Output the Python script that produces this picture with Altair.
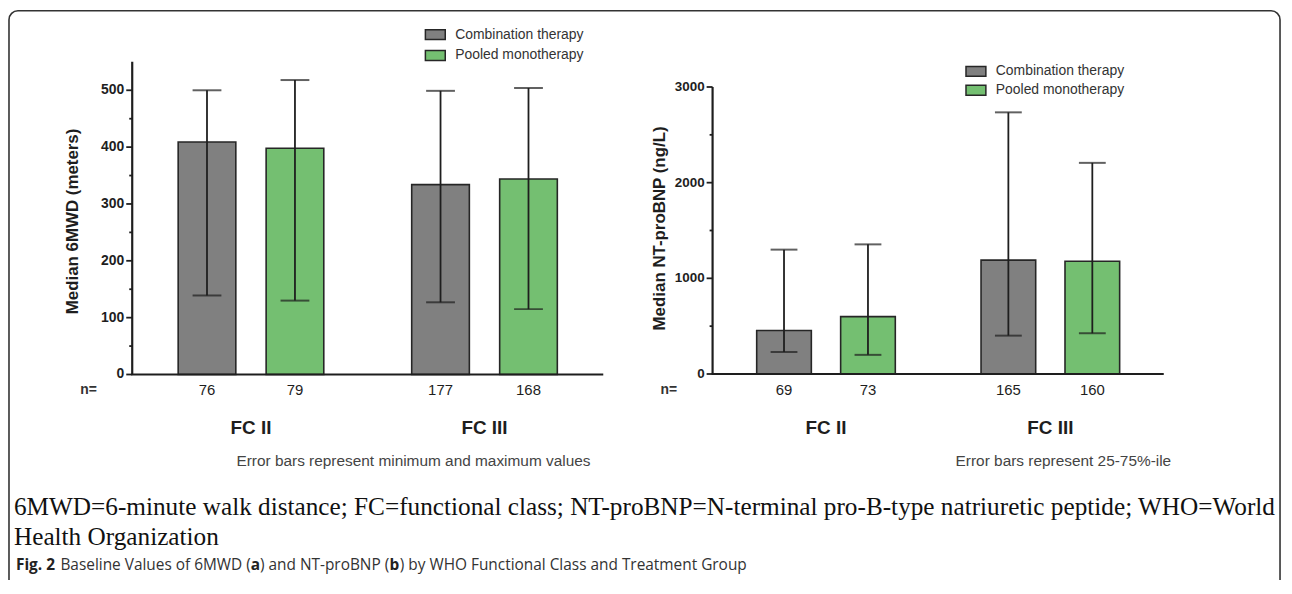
import altair as alt
import pandas as pd

# ---------------- data ----------------
groups = ["FC II", "FC II", "FC III", "FC III"]
treatments = ["Combination therapy", "Pooled monotherapy", "Combination therapy", "Pooled monotherapy"]
treatment_order = ["Combination therapy", "Pooled monotherapy"]
group_order = ["FC II", "FC III"]

mwd_median = [409, 398, 334, 344]
mwd_min = [139, 130, 127, 115]
mwd_max = [500, 518, 499, 504]
mwd_n = ["76", "79", "177", "168"]

bnp_median = [455, 600, 1190, 1178]
bnp_q1 = [230, 200, 401, 426]
bnp_q3 = [1300, 1355, 2735, 2207]
bnp_n = ["69", "73", "165", "160"]

mwd_ticks = [0, 100, 200, 300, 400, 500]
mwd_minor = [50, 150, 250, 350, 450]
bnp_ticks = [0, 1000, 2000, 3000]
bnp_minor = [500, 1500, 2500]

mwd_title = "Median 6MWD (meters)"
bnp_title = "Median NT-proBNP (ng/L)"
mwd_note = "Error bars represent minimum and maximum values"
bnp_note = "Error bars represent 25-75%-ile"
caption_line1 = "6MWD=6-minute walk distance; FC=functional class; NT-proBNP=N-terminal pro-B-type natriuretic peptide; WHO=World"
caption_line2 = "Health Organization"
fig_segments = [("Fig. 2", True), ("Baseline Values of 6MWD (", False), ("a", True),
                (") and NT-proBNP (", False), ("b", True),
                (") by WHO Functional Class and Treatment Group", False)]

GRAY = "#808080"
GREEN = "#74bf71"
INK = "#1e1e1e"
SANS = "Liberation Sans"
SERIF = "Liberation Serif"
CAPSANS = "Open Sans"

RECT_PATH = "M-1,-0.5H1V0.5H-1Z"


def panel(median, lo, hi, ns, ticks, minor, domain, yrange, ax_x, ax_end,
          pad_in, pad_out, off_in, off_out, cap, title, title_x, title_y,
          tick_size, leg_x, leg_y, leg_pad):
    df = pd.DataFrame({"group": groups, "treatment": treatments,
                       "median": median, "lo": lo, "hi": hi, "n": ns})
    ysc = alt.Scale(domain=domain, range=yrange, nice=False, zero=False)
    xsc = alt.Scale(domain=group_order, range=[ax_x, ax_end],
                    paddingInner=pad_in, paddingOuter=pad_out)
    osc = alt.Scale(domain=treatment_order, paddingInner=off_in, paddingOuter=off_out)
    X = alt.X("group:N", scale=xsc, axis=None)
    XO = alt.XOffset("treatment:N", scale=osc)
    base = alt.Chart(df)

    bars = base.mark_bar(stroke="#262626", strokeWidth=1.6).encode(
        x=X, xOffset=XO,
        y=alt.Y("median:Q", scale=ysc, axis=None),
        color=alt.Color("treatment:N",
                        scale=alt.Scale(domain=treatment_order, range=[GRAY, GREEN]),
                        legend=alt.Legend(orient="none", legendX=leg_x, legendY=leg_y,
                                          title=None, symbolType=RECT_PATH, symbolSize=400,
                                          symbolStrokeColor="#262626", symbolStrokeWidth=1.5,
                                          symbolOpacity=1, labelFont=SANS, labelFontSize=14,
                                          labelColor="#333333", labelOffset=9,
                                          rowPadding=leg_pad, padding=0)),
    )
    err = base.mark_rule(color=INK, strokeWidth=1.8).encode(
        x=X, xOffset=XO,
        y=alt.Y("lo:Q", scale=ysc, axis=None), y2="hi:Q")
    cap_hi = base.mark_tick(color=INK, size=cap, thickness=2).encode(
        x=X, xOffset=XO, y=alt.Y("hi:Q", scale=ysc, axis=None))
    cap_lo = base.mark_tick(color=INK, size=cap, thickness=2).encode(
        x=X, xOffset=XO, y=alt.Y("lo:Q", scale=ysc, axis=None))
    nlab = base.mark_text(font=SANS, fontSize=15, color=INK, baseline="middle").encode(
        x=X, xOffset=XO, y=alt.value(382.5), text="n:N")

    ax = pd.DataFrame({"y0": [domain[0]], "y1": [domain[1]]})
    yline = alt.Chart(ax).mark_rule(color=INK, strokeWidth=2.2).encode(
        x=alt.value(ax_x), y=alt.Y("y0:Q", scale=ysc, axis=None), y2="y1:Q")
    xline = alt.Chart(ax).mark_rule(color=INK, strokeWidth=2.2).encode(
        x=alt.value(ax_x - 1), x2=alt.value(ax_end), y=alt.Y("y0:Q", scale=ysc, axis=None))

    tdf = pd.DataFrame({"tick": ticks, "label": [str(t) for t in ticks]})
    mdf = pd.DataFrame({"tick": minor})
    major = alt.Chart(tdf).mark_rule(color=INK, strokeWidth=1.8).encode(
        x=alt.value(ax_x - 6), x2=alt.value(ax_x), y=alt.Y("tick:Q", scale=ysc, axis=None))
    minr = alt.Chart(mdf).mark_rule(color=INK, strokeWidth=1.8).encode(
        x=alt.value(ax_x - 3), x2=alt.value(ax_x), y=alt.Y("tick:Q", scale=ysc, axis=None))
    tlab = alt.Chart(tdf).mark_text(font=SANS, fontSize=tick_size, fontWeight="bold",
                                     color=INK, align="right", baseline="middle").encode(
        x=alt.value(ax_x - 8), y=alt.Y("tick:Q", scale=ysc, axis=None), text="label:N")

    fdf = pd.DataFrame({"group": group_order})
    fclab = alt.Chart(fdf).mark_text(font=SANS, fontSize=19, fontWeight="bold", color=INK,
                                     baseline="middle").encode(
        x=alt.X("group:N", scale=xsc, axis=None), y=alt.value(421), text="group:N")

    ndf = pd.DataFrame({"t": ["n="]})
    neq = alt.Chart(ndf).mark_text(font=SANS, fontSize=14, fontWeight="bold", color="#333333",
                                   baseline="middle").encode(
        x=alt.value(ax_x - 44), y=alt.value(382.5), text="t:N")

    ttl = alt.Chart(pd.DataFrame({"t": [title]})).mark_text(
        font=SANS, fontSize=17, fontWeight="bold", color=INK, angle=270,
        baseline="middle").encode(x=alt.value(title_x), y=alt.value(title_y), text="t:N")

    return alt.layer(bars, err, cap_hi, cap_lo, yline, xline, major, minr, tlab,
                     nlab, fclab, neq, ttl)


left = panel(mwd_median, mwd_min, mwd_max, mwd_n, mwd_ticks, mwd_minor,
             [0, 550], [367, 52.4], 125, 599, 0.1, 0.0585, 0.3446, 0.367, 29,
             mwd_title, 65, 213, 14, 419, 14, 2)
right = panel(bnp_median, bnp_q1, bnp_q3, bnp_n, bnp_ticks, bnp_minor,
              [0, 3000], [366.5, 77.7], 709, 1163, 0.1, 0.0555, 0.349, 0.377, 27,
              bnp_title, 656, 220, 13.5, 963, 51, 0)

# ---------------- decoration & captions ----------------
frame = alt.Chart(pd.DataFrame({"k": [0]})).mark_rect(
    fill="transparent", stroke="#333333", strokeWidth=1.6, cornerRadius=9).encode(
    x=alt.value(1), x2=alt.value(1280), y=alt.value(1), y2=alt.value(600))

pxsc = alt.Scale(domain=[0, 1284], range=[0, 1284])
notes = alt.Chart(pd.DataFrame({"t": [mwd_note, bnp_note], "px": [408, 1062]})).mark_text(
    font=SANS, fontSize=15.5, color="#444444", baseline="middle").encode(
    x=alt.X("px:Q", scale=pxsc, axis=None), y=alt.value(454), text="t:N")

serif1 = alt.Chart(pd.DataFrame({"t": [caption_line1]})).mark_text(
    font=SERIF, fontSize=25.4, color="#111111",
    align="left", baseline="middle").encode(x=alt.value(6), y=alt.value(500), text="t:N")
serif2 = alt.Chart(pd.DataFrame({"t": [caption_line2]})).mark_text(
    font=SERIF, fontSize=25.4, color="#111111",
    align="left", baseline="middle").encode(x=alt.value(6), y=alt.value(531), text="t:N")

# approximate Open Sans advance widths (em) to place the bold runs inline
OS = {" ": 0.26, ".": 0.266, "(": 0.296, ")": 0.296, "-": 0.322, "2": 0.572, "6": 0.572,
      "B": 0.633, "C": 0.631, "F": 0.533, "G": 0.722, "M": 0.903, "N": 0.76, "O": 0.778,
      "P": 0.603, "T": 0.556, "V": 0.585, "W": 0.92, "D": 0.728, "H": 0.738,
      "a": 0.556, "b": 0.613, "c": 0.476, "d": 0.613, "e": 0.561, "f": 0.339, "i": 0.253,
      "l": 0.253, "m": 0.93, "n": 0.614, "o": 0.604, "p": 0.613, "r": 0.408, "s": 0.477,
      "t": 0.353, "u": 0.614, "y": 0.504, "g": 0.548, "h": 0.614, "k": 0.525, "v": 0.504}
FS = 15.5


def tw(s, bold):
    return sum(OS.get(c, 0.55) for c in s) * FS * (1.08 if bold else 1.0)


seg_rows = []
cx = 8.0
for i, (s, b) in enumerate(fig_segments):
    if i == 1:
        cx += OS[" "] * FS
    seg_rows.append({"t": s, "px": cx, "w": "bold" if b else "normal"})
    cx += tw(s, b)
segdf = pd.DataFrame(seg_rows)
fig_bold = alt.Chart(segdf).transform_filter(alt.datum.w == "bold").mark_text(
    font=CAPSANS, fontSize=FS, fontWeight="bold", color="#222222",
    align="left", baseline="middle").encode(
    x=alt.X("px:Q", scale=pxsc, axis=None), y=alt.value(559), text="t:N")
fig_norm = alt.Chart(segdf).transform_filter(alt.datum.w == "normal").mark_text(
    font=CAPSANS, fontSize=FS, color="#333333",
    align="left", baseline="middle").encode(
    x=alt.X("px:Q", scale=pxsc, axis=None), y=alt.value(559), text="t:N")

deco = alt.layer(frame, notes, serif1, serif2, fig_bold, fig_norm)

chart = alt.layer(left, right, deco).resolve_scale(
    x="independent", y="independent", xOffset="independent", color="independent"
).resolve_legend(color="independent").properties(
    width=1284, height=572, padding=0, autosize="none"
).configure_view(stroke=None)

chart.save("out.html", embed_options={"renderer": "svg", "actions": False})
